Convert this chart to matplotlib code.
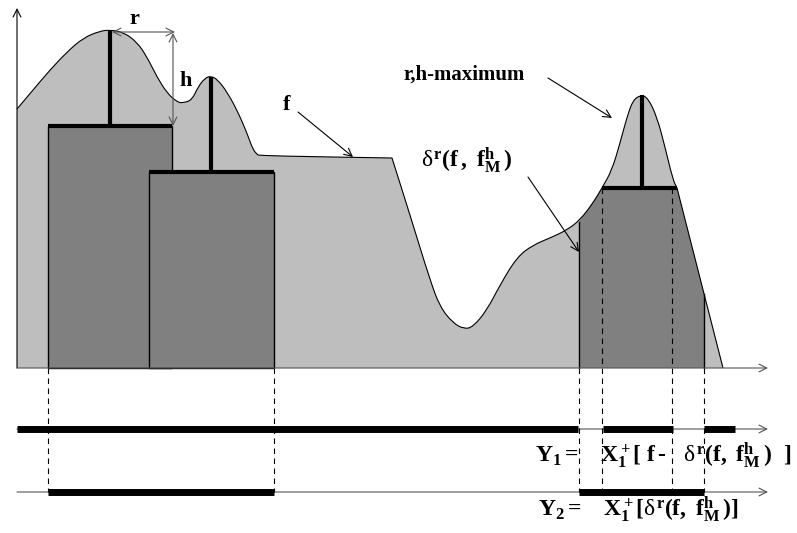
import numpy as np
import matplotlib
matplotlib.use("Agg")
import matplotlib.pyplot as plt
from matplotlib.patches import Rectangle, PathPatch
from matplotlib.path import Path

plt.rcParams['mathtext.fontset'] = 'custom'
plt.rcParams['mathtext.rm'] = 'Liberation Serif:bold'
plt.rcParams['mathtext.bf'] = 'Liberation Serif:bold'
plt.rcParams['mathtext.it'] = 'Liberation Serif'

# f curve (pixel coords, y downwards)
# a repeated point marks a sharp corner
curve_x = [17, 17, 33, 50, 67, 83, 100, 110, 123, 137, 147, 157, 167, 177, 183, 192, 198, 205, 211,
           218, 227, 237, 247, 253, 258, 258, 273, 392, 392, 410, 430, 440, 453, 464, 473, 487, 500,
           517, 533, 550, 567, 580, 593, 602, 612, 620, 627, 633, 641, 648, 657, 665, 673,
           677, 677, 723, 723]
curve_y = [109, 109, 90, 70, 52, 38, 31, 30, 32, 42, 57, 77, 93, 102, 103, 100, 87, 78, 76,
           80, 92, 110, 133, 150, 155, 155, 156, 158, 158, 215, 280, 307, 323, 329, 327, 310, 285,
           257, 245, 238, 230, 220, 203, 188, 170, 143, 117, 100, 95, 98, 117, 147, 180,
           188, 188, 368, 368]
base_y = 368

# r,h-flat blocks: (left, right, top)
blocks = [(48, 172, 126), (149, 274, 172)]
peaks_x = [110, 211]
peaks_top = [30, 77]

# third block follows f on its sides
right_block_x = [579, 579, 579, 580, 593, 602, 602, 677, 677, 704, 704, 704]
right_block_y = [368, 222, 222, 220, 203, 188, 188, 188, 188, 294, 294, 368]
right_peak = (642, 95, 188)

dashed_x = [48, 274, 579, 602, 672, 704]
dashed_top = [368, 368, 368, 188, 188, 368]

# Y1 / Y2 sets on the lower axes
y1_segments = [(17, 578), (603, 673), (704, 735)]
y2_segments = [(48, 274), (579, 704)]
y1_level, y2_level = 429, 492


def smooth_path(xs, ys, close_to=None):
    p = list(zip(xs, ys))
    verts = [p[0]]
    codes = [Path.MOVETO]
    for i in range(1, len(p) - 1):
        mid = ((p[i][0] + p[i + 1][0]) / 2, (p[i][1] + p[i + 1][1]) / 2)
        verts += [p[i], mid]
        codes += [Path.CURVE3, Path.CURVE3]
    verts.append(p[-1])
    codes.append(Path.LINETO)
    if close_to is not None:
        verts += [(xs[-1], close_to), (xs[0], close_to), p[0]]
        codes += [Path.LINETO, Path.LINETO, Path.CLOSEPOLY]
    return Path(verts, codes)


fig = plt.figure(figsize=(7.97, 5.33), dpi=100)
ax = fig.add_axes([0, 0, 1, 1])
ax.set_xlim(0, 797)
ax.set_ylim(533, 0)
ax.axis('off')

light = '#bebebe'
dark = '#808080'

ax.add_patch(PathPatch(smooth_path(curve_x, curve_y, base_y), facecolor=light, edgecolor='none', zorder=1))
ax.add_patch(PathPatch(smooth_path(curve_x, curve_y), facecolor='none', edgecolor='black', lw=0.8, zorder=4))

for (l, r, t) in blocks:
    ax.add_patch(Rectangle((l, t), r - l, base_y - t, facecolor=dark, edgecolor='black', lw=1, zorder=2))
    ax.plot([l, r], [t, t], color='black', lw=3, solid_capstyle='butt', zorder=5)
for px, pt, (l, r, t) in zip(peaks_x, peaks_top, blocks):
    ax.plot([px, px], [pt, t], color='black', lw=3, solid_capstyle='butt', zorder=5)

ax.add_patch(PathPatch(smooth_path(right_block_x, right_block_y, base_y), facecolor=dark,
                       edgecolor='none', zorder=2))
ax.plot([579, 579], [222, 368], color='black', lw=1, zorder=3)
ax.plot([704, 704], [294, 368], color='black', lw=1, zorder=3)
ax.plot([602, 677], [188, 188], color='black', lw=3, solid_capstyle='butt', zorder=5)
ax.plot([right_peak[0]] * 2, [right_peak[1], right_peak[2]], color='black', lw=3,
        solid_capstyle='butt', zorder=5)

for dx, dt in zip(dashed_x, dashed_top):
    ax.plot([dx, dx], [dt, y2_level], color='black', lw=0.8, ls=(0, (5, 4)), zorder=3)

arr = dict(arrowstyle='->', color='black', lw=0.8, shrinkA=0, shrinkB=0, mutation_scale=14)
gray_arr = dict(arr, color='#555555')
# axes
ax.annotate('', xy=(17, 8), xytext=(17, base_y), arrowprops=arr, zorder=6)
ax.annotate('', xy=(768, base_y), xytext=(17, base_y), arrowprops=gray_arr, zorder=6)
ax.annotate('', xy=(768, y1_level), xytext=(17, y1_level), arrowprops=gray_arr, zorder=2)
ax.annotate('', xy=(768, y2_level), xytext=(17, y2_level), arrowprops=gray_arr, zorder=2)

for a, b in y1_segments:
    ax.plot([a, b], [y1_level, y1_level], color='black', lw=5, solid_capstyle='butt', zorder=4)
for a, b in y2_segments:
    ax.plot([a, b], [y2_level, y2_level], color='black', lw=5, solid_capstyle='butt', zorder=4)

# r and h dimension arrows
ax.annotate('', xy=(175, 32), xytext=(112, 32), arrowprops=dict(gray_arr, arrowstyle='<->'), zorder=6)
ax.annotate('', xy=(173, 126), xytext=(173, 33), arrowprops=dict(gray_arr, arrowstyle='<->'), zorder=6)

serif = 'Liberation Serif'
ax.text(134, 24, 'r', fontsize=16, fontweight='bold', family=serif, ha='center', va='baseline')
ax.text(186, 86, 'h', fontsize=16, fontweight='bold', family=serif, ha='center', va='baseline')
ax.text(287, 110, 'f', fontsize=16, fontweight='bold', family=serif, ha='center', va='baseline')
ax.text(464, 80, 'r,h-maximum', fontsize=15, fontweight='bold', family=serif, ha='center', va='baseline')
ax.text(421, 168, r'$\delta^{\mathbf{r}}\mathbf{(f\,,\ f_M^h\,)}$', fontsize=17, ha='left', va='baseline')

ax.annotate('', xy=(353, 157), xytext=(298, 112), arrowprops=arr, zorder=6)
ax.annotate('', xy=(612, 118), xytext=(548, 78), arrowprops=arr, zorder=6)
ax.annotate('', xy=(579, 252), xytext=(528, 177), arrowprops=arr, zorder=6)

ax.text(535, 463, r'$\mathbf{Y_1 =}\ \ \ \mathbf{X_1^+[\ f\,\text{-}}\ \ \ \delta^{\mathbf{r}}\mathbf{(f,\ f_M^h\,)\ \ ]}$',
        fontsize=17, ha='left', va='baseline', zorder=7)
ax.text(538, 517, r'$\mathbf{Y_2 =}\ \ \ \mathbf{X_1^+[}\delta^{\mathbf{r}}\mathbf{(f,\ f_M^h\,)]}$',
        fontsize=17, ha='left', va='baseline', zorder=7)

fig.savefig('out.png', dpi=100)
